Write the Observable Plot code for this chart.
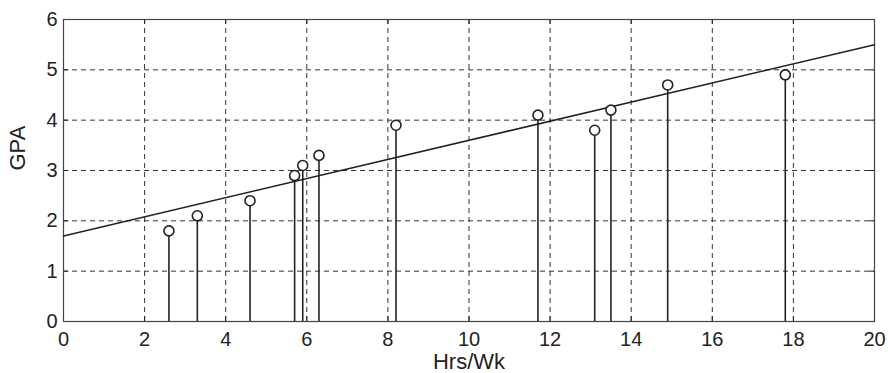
<!DOCTYPE html>
<html>
<head>
<meta charset="utf-8">
<script src="https://cdn.jsdelivr.net/npm/d3@7"></script>
<script src="https://cdn.jsdelivr.net/npm/@observablehq/plot@0.6"></script>
<style>
  html, body { margin: 0; padding: 0; background: #fff; }
  #chart svg { display: block; }
</style>
</head>
<body>
<div id="chart"></div>
<script>
const hrs = [2.6, 3.3, 4.6, 5.7, 5.9, 6.3, 8.2, 11.7, 13.1, 13.5, 14.9, 17.8];
const gpa = [1.8, 2.1, 2.4, 2.9, 3.1, 3.3, 3.9, 4.1, 3.8, 4.2, 4.7, 4.9];
const fitX = [0, 20];
const fitY = [1.7, 5.5];
const xTicks = [0, 2, 4, 6, 8, 10, 12, 14, 16, 18, 20];
const yTicks = [0, 1, 2, 3, 4, 5, 6];

const points = hrs.map((h, i) => ({ h, g: gpa[i] }));
const fit = fitX.map((x, i) => ({ x, y: fitY[i] }));

const ink = "#222";
const chart = Plot.plot({
  width: 888,
  height: 373,
  marginLeft: 63,
  marginRight: 14,
  marginTop: 19,
  marginBottom: 52,
  style: { fontFamily: "'Liberation Sans', Arial, sans-serif", fontSize: "20px", color: ink, background: "#fff" },
  x: { domain: [0, 20], axis: null },
  y: { domain: [0, 6], axis: null },
  marks: [
    Plot.gridX(xTicks.slice(1, -1), { stroke: "#333", strokeOpacity: 1, strokeWidth: 1, strokeDasharray: "5,4" }),
    Plot.gridY(yTicks.slice(1, -1), { stroke: "#333", strokeOpacity: 1, strokeWidth: 1, strokeDasharray: "5,4" }),
    // inward ticks
    Plot.ruleX(xTicks, { y1: 0, y2: 0.1, stroke: ink }),
    Plot.ruleX(xTicks, { y1: 5.9, y2: 6, stroke: ink }),
    Plot.ruleY(yTicks, { x1: 0, x2: 0.13, stroke: ink }),
    Plot.ruleY(yTicks, { x1: 19.87, x2: 20, stroke: ink }),
    Plot.frame({ stroke: "#444", strokeWidth: 1.2 }),
    Plot.line(fit, { x: "x", y: "y", stroke: ink, strokeWidth: 1.6 }),
    Plot.ruleX(points, { x: "h", y1: 0, y2: "g", stroke: ink, strokeWidth: 1.6 }),
    Plot.dot(points, { x: "h", y: "g", r: 5, stroke: ink, strokeWidth: 1.6, fill: "#fff" }),
    Plot.text(xTicks, { x: d => d, frameAnchor: "bottom", dy: 10, text: d => String(d), fontSize: 20, fill: ink, lineAnchor: "top" }),
    Plot.text(yTicks, { y: d => d, frameAnchor: "left", dx: -6, text: d => String(d), fontSize: 20, fill: ink, textAnchor: "end" }),
    Plot.text(["Hrs/Wk"], { frameAnchor: "bottom", dy: 47, fontSize: 22, fill: ink, lineAnchor: "bottom" }),
    Plot.text(["GPA"], { frameAnchor: "left", dx: -46, rotate: -90, fontSize: 22, fill: ink })
  ]
});
document.getElementById("chart").appendChild(chart);
</script>
</body>
</html>
